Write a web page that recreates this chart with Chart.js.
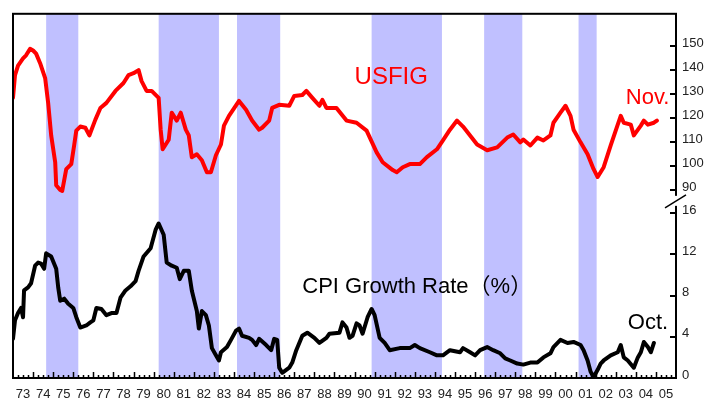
<!DOCTYPE html>
<html>
<head>
<meta charset="utf-8">
<script src="https://cdn.jsdelivr.net/npm/chart.js@4.4.1/dist/chart.umd.min.js"></script>
<style>
  html, body { margin: 0; padding: 0; background: #fff; }
  canvas { display: block; }
</style>
</head>
<body>
<canvas id="chart" width="712" height="401"></canvas>
<script>
// USFIG (red)
const usfigYears = [1973.0, 1973.1, 1973.25, 1973.5, 1973.65, 1973.85, 1974.0, 1974.15, 1974.35, 1974.6,
  1974.75, 1974.9, 1975.1, 1975.15, 1975.35, 1975.45, 1975.65, 1975.9, 1976.05, 1976.15,
  1976.35, 1976.6, 1976.8, 1977.1, 1977.35, 1977.65, 1978.1, 1978.5, 1978.75, 1979.0,
  1979.25, 1979.4, 1979.65, 1979.9, 1980.25, 1980.35, 1980.45, 1980.75, 1980.9, 1981.15,
  1981.35, 1981.6, 1981.75, 1981.9, 1982.15, 1982.4, 1982.65, 1982.85, 1983.1, 1983.35,
  1983.5, 1983.75, 1984.25, 1984.6, 1984.9, 1985.25, 1985.4, 1985.75, 1985.9, 1986.25,
  1986.75, 1987.0, 1987.4, 1987.6, 1987.9, 1988.25, 1988.4, 1988.6, 1989.1, 1989.6,
  1990.1, 1990.6, 1991.1, 1991.4, 1991.9, 1992.1, 1992.4, 1992.75, 1993.25, 1993.6,
  1994.1, 1994.4, 1994.75, 1995.1, 1995.4, 1995.75, 1996.1, 1996.6, 1997.1, 1997.6,
  1997.9, 1998.25, 1998.4, 1998.75, 1999.1, 1999.4, 1999.75, 1999.9, 2000.25, 2000.5,
  2000.75, 2000.9, 2001.25, 2001.6, 2001.9, 2002.1, 2002.4, 2002.75, 2003.1, 2003.25,
  2003.4, 2003.75, 2003.9, 2004.25, 2004.4, 2004.6, 2004.9, 2005.05];
const usfigValues = [128.5, 138, 142, 145, 146.3, 149, 148.3, 147, 143, 136.8,
  126.4, 112.8, 101.6, 92, 90, 89.6, 98.7, 100.8, 109, 114.8,
  116.5, 116, 112.8, 119.4, 124.3, 126.4, 131.4, 134.7, 138, 138.8,
  140.1, 135.5, 131.4, 131.4, 128.5, 115.2, 107, 111, 122.3, 119,
  122.3, 115.2, 112.8, 103.7, 104.9, 102.4, 97.4, 97.4, 104.5, 109,
  116.9, 121, 127.2, 123.5, 119, 115.2, 116, 119, 124.3, 125.6,
  125.2, 129.3, 129.7, 131.4, 128.5, 125.2, 127.7, 124.3, 124.3, 119,
  118.1, 114.8, 105.7, 101.6, 98.3, 97.4, 99.5, 100.8, 100.8, 103.7,
  107, 110.7, 115.2, 119, 116.5, 112.8, 109, 106.6, 107.8, 111.9,
  113.2, 109.9, 111.1, 108.6, 111.9, 110.7, 112.8, 118.1, 122.3, 125.2,
  121, 115.2, 109.9, 104.9, 98.7, 95.4, 99.5, 108.6, 117.3, 121,
  118.1, 117.3, 112.8, 116.9, 119, 117.3, 118.1, 119];

// CPI growth rate % (black)
const cpiYears = [1973.0, 1973.1, 1973.25, 1973.4, 1973.5, 1973.55, 1973.75, 1973.9, 1974.1, 1974.25,
  1974.4, 1974.55, 1974.65, 1974.9, 1975.15, 1975.25, 1975.35, 1975.55, 1975.75, 1976.0,
  1976.15, 1976.35, 1976.65, 1976.85, 1977.0, 1977.15, 1977.4, 1977.65, 1977.9, 1978.15,
  1978.35, 1978.6, 1978.85, 1979.1, 1979.25, 1979.5, 1979.85, 1980.1, 1980.25, 1980.5,
  1980.65, 1980.9, 1981.15, 1981.3, 1981.5, 1981.75, 1981.9, 1982.15, 1982.25, 1982.4,
  1982.6, 1982.75, 1982.9, 1983.1, 1983.25, 1983.35, 1983.65, 1983.85, 1984.1, 1984.25,
  1984.4, 1984.75, 1984.9, 1985.1, 1985.25, 1985.6, 1985.85, 1986.0, 1986.15, 1986.25,
  1986.4, 1986.75, 1986.9, 1987.1, 1987.4, 1987.65, 1988.0, 1988.25, 1988.6, 1988.75,
  1989.25, 1989.4, 1989.6, 1989.75, 1989.9, 1990.1, 1990.25, 1990.4, 1990.65, 1990.85,
  1991.0, 1991.25, 1991.5, 1991.75, 1992.25, 1992.75, 1993.0, 1993.25, 1993.75, 1994.1,
  1994.4, 1994.75, 1995.25, 1995.4, 1995.75, 1996.0, 1996.25, 1996.6, 1996.9, 1997.25,
  1997.5, 1997.75, 1998.1, 1998.4, 1998.75, 1999.1, 1999.4, 1999.75, 1999.9, 2000.25,
  2000.6, 2000.9, 2001.25, 2001.4, 2001.6, 2001.75, 2001.9, 2002.1, 2002.25, 2002.4,
  2002.75, 2003.1, 2003.25, 2003.4, 2003.6, 2003.9, 2004.1, 2004.25, 2004.4, 2004.6,
  2004.75, 2004.9];
const cpiValues = [3.8, 5.6, 6.3, 6.8, 5.9, 8.5, 8.8, 9.2, 10.9, 11.2,
  11.1, 10.6, 12.1, 11.8, 10.6, 8.8, 7.5, 7.7, 7.2, 6.8,
  5.9, 4.9, 5.1, 5.4, 5.6, 6.8, 6.7, 6.1, 6.3, 6.3,
  7.8, 8.5, 8.9, 9.4, 10.4, 11.8, 12.6, 14.4, 15.0, 13.9,
  11.2, 10.9, 10.7, 9.6, 10.4, 10.4, 8.5, 6.5, 4.8, 6.5,
  6.1, 5.1, 2.9, 2.2, 1.7, 2.5, 3.0, 3.7, 4.6, 4.8,
  4.1, 3.9, 3.7, 3.2, 3.8, 3.2, 2.7, 3.8, 3.7, 1.0,
  0.5, 1.0, 1.5, 2.7, 4.1, 4.4, 3.9, 3.4, 3.9, 4.3,
  4.4, 5.4, 4.9, 3.9, 4.1, 5.3, 5.1, 4.3, 5.9, 6.7,
  6.1, 3.9, 3.4, 2.7, 2.9, 2.9, 3.2, 2.9, 2.5, 2.2,
  2.2, 2.7, 2.5, 2.9, 2.5, 2.2, 2.7, 3.0, 2.7, 2.4,
  1.9, 1.7, 1.4, 1.3, 1.5, 1.5, 2.0, 2.4, 3.0, 3.7,
  3.4, 3.5, 3.2, 2.7, 1.7, 0.6, 0.1, 0.8, 1.4, 1.7,
  2.2, 2.5, 3.2, 2.0, 1.7, 1.0, 2.0, 2.5, 3.5, 3.0,
  2.5, 3.4];

// shaded periods
const bandStarts = [1974.65, 1980.25, 1984.15, 1990.85, 1996.45, 2001.15];
const bandEnds = [1976.25, 1983.25, 1986.3, 1994.35, 1998.35, 2002.05];

// tick labels
const yearLabels = ['73', '74', '75', '76', '77', '78', '79', '80', '81', '82', '83',
  '84', '85', '86', '87', '88', '89', '90', '91', '92', '93', '94', '95', '96', '97',
  '98', '99', '00', '01', '02', '03', '04', '05'];
const usfigTicks = [90, 100, 110, 120, 130, 140, 150];
const cpiTicks = [0, 4, 8, 12, 16];

const FONT = '"Liberation Sans", Arial, sans-serif';

const decor = {
  id: 'decor',
  beforeDatasetsDraw(chart) {
    const { ctx, chartArea: a, scales: { x } } = chart;
    ctx.save();
    ctx.fillStyle = '#C0C0FF';
    bandStarts.forEach((s, i) => {
      const x0 = x.getPixelForValue(s);
      const x1 = x.getPixelForValue(bandEnds[i]);
      ctx.fillRect(x0, a.top, x1 - x0, a.bottom - a.top);
    });
    ctx.restore();
  },
  afterDraw(chart) {
    const { ctx, chartArea: a, scales: { x, yTop, yBot } } = chart;
    ctx.save();
    ctx.strokeStyle = '#000';
    ctx.lineWidth = 2;
    ctx.strokeRect(a.left, a.top, a.right - a.left, a.bottom - a.top);

    // inward tick marks on the right axis
    ctx.beginPath();
    usfigTicks.forEach(v => {
      const py = Math.round(yTop.getPixelForValue(v));
      ctx.moveTo(a.right, py); ctx.lineTo(a.right - 6, py);
    });
    cpiTicks.forEach(v => {
      if (v === 0) return;
      const py = Math.round(yBot.getPixelForValue(v));
      ctx.moveTo(a.right, py); ctx.lineTo(a.right - 6, py);
    });
    ctx.stroke();

    // quarterly ticks on the bottom axis
    ctx.beginPath();
    ctx.lineWidth = 1.5;
    for (let q = 1; q < yearLabels.length * 4; q++) {
      const px = Math.round(x.getPixelForValue(1973 + q / 4)) + 0.5;
      const len = q % 4 === 0 ? 6 : 3;
      ctx.moveTo(px, a.bottom); ctx.lineTo(px, a.bottom - len);
    }
    ctx.stroke();

    // axis break
    const by = yBot.top;
    ctx.fillStyle = '#fff';
    ctx.fillRect(a.right - 3, by - 6, 6, 10);
    ctx.lineWidth = 1.5;
    ctx.beginPath();
    ctx.moveTo(a.right - 11, by + 6);
    ctx.lineTo(a.right + 10, by - 7);
    ctx.stroke();

    // labels
    ctx.textBaseline = 'alphabetic';
    ctx.textAlign = 'left';
    ctx.fillStyle = '#FF0000';
    ctx.font = '24px ' + FONT;
    ctx.fillText('USFIG', x.getPixelForValue(1990.0), yTop.getPixelForValue(134.3));
    ctx.font = '22px ' + FONT;
    ctx.fillText('Nov.', x.getPixelForValue(2003.5), yTop.getPixelForValue(126));
    ctx.fillStyle = '#000';
    ctx.font = '22px ' + FONT + ', "Noto Sans CJK JP"';
    ctx.fillText('CPI Growth Rate（%）', x.getPixelForValue(1987.4), yBot.getPixelForValue(8.27));
    ctx.font = '22px ' + FONT;
    ctx.fillText('Oct.', x.getPixelForValue(2003.6), yBot.getPixelForValue(4.8));
    ctx.restore();
  }
};

new Chart(document.getElementById('chart'), {
  type: 'line',
  data: {
    datasets: [
      {
        label: 'USFIG',
        data: usfigYears.map((y, i) => ({ x: y, y: usfigValues[i] })),
        yAxisID: 'yTop',
        borderColor: '#FF0000',
        borderWidth: 4,
        pointRadius: 0,
        tension: 0,
        borderJoinStyle: 'round',
        borderCapStyle: 'round'
      },
      {
        label: 'CPI Growth Rate (%)',
        data: cpiYears.map((y, i) => ({ x: y, y: cpiValues[i] })),
        yAxisID: 'yBot',
        borderColor: '#000',
        borderWidth: 4,
        pointRadius: 0,
        tension: 0,
        borderJoinStyle: 'round',
        borderCapStyle: 'round'
      }
    ]
  },
  options: {
    responsive: false,
    animation: false,
    layout: { padding: { left: 13, top: 10, right: 0, bottom: 0 } },
    plugins: { legend: { display: false }, tooltip: { enabled: false } },
    scales: {
      x: {
        type: 'linear',
        min: 1973,
        max: 2006,
        afterBuildTicks: s => { s.ticks = yearLabels.map((l, i) => ({ value: 1973.5 + i })); },
        afterFit: s => { s.height = 23; },
        grid: { display: false, drawTicks: false },
        border: { display: true, color: '#000', width: 2 },
        ticks: {
          autoSkip: false,
          maxRotation: 0,
          padding: 9,
          color: '#222',
          font: { family: FONT, size: 13 },
          callback: (v, i) => yearLabels[i]
        }
      },
      yTop: {
        type: 'linear',
        position: 'right',
        stack: 'right',
        stackWeight: 190,
        min: 85.03,
        max: 163.65,
        afterBuildTicks: s => { s.ticks = usfigTicks.map(v => ({ value: v })); },
        afterFit: s => { s.width = 36; },
        grid: { display: false, drawTicks: false },
        border: { display: true, color: '#000', width: 2 },
        ticks: { autoSkip: false, padding: 6, labelOffset: -3, color: '#222', font: { family: FONT, size: 13 } }
      },
      yBot: {
        type: 'linear',
        position: 'right',
        stack: 'right',
        stackWeight: 178,
        min: 0,
        max: 17.1,
        afterBuildTicks: s => { s.ticks = cpiTicks.map(v => ({ value: v })); },
        afterFit: s => { s.width = 36; },
        grid: { display: false, drawTicks: false },
        border: { display: true, color: '#000', width: 2 },
        ticks: { autoSkip: false, padding: 6, labelOffset: -3, color: '#222', font: { family: FONT, size: 13 } }
      }
    }
  },
  plugins: [decor]
});
</script>
</body>
</html>
